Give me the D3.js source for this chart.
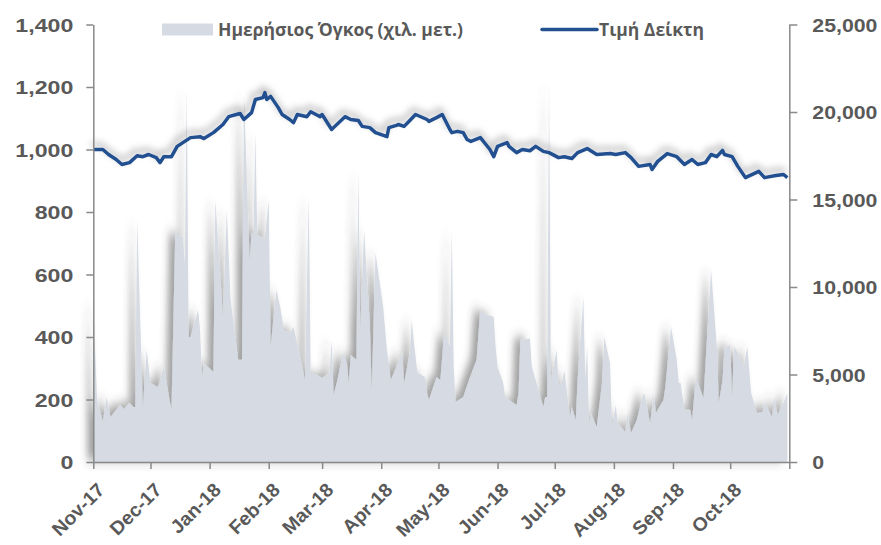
<!DOCTYPE html>
<html>
<head>
<meta charset="utf-8">
<script src="https://cdn.jsdelivr.net/npm/d3@7"></script>
<style>
  html, body { margin: 0; padding: 0; background: #fff; }
  svg { display: block; font-family: "Open Sans", "Noto Sans", sans-serif; }
</style>
</head>
<body>
<div id="chart"></div>
<script>
// Index price (left axis)
const indexDates = ["2017-11-01","2017-11-06","2017-11-09","2017-11-13","2017-11-16","2017-11-20","2017-11-24","2017-11-27","2017-11-30",
  "2017-12-04","2017-12-06","2017-12-08","2017-12-12","2017-12-15","2017-12-22","2017-12-27","2017-12-29",
  "2018-01-03","2018-01-08","2018-01-11","2018-01-15","2018-01-17","2018-01-19","2018-01-23","2018-01-25","2018-01-29","2018-01-30","2018-01-31",
  "2018-02-02","2018-02-06","2018-02-08","2018-02-12","2018-02-14","2018-02-16","2018-02-21","2018-02-23","2018-02-28",
  "2018-03-01","2018-03-06","2018-03-07","2018-03-13","2018-03-16","2018-03-20","2018-03-22","2018-03-26","2018-03-29",
  "2018-04-04","2018-04-05","2018-04-09","2018-04-10","2018-04-13","2018-04-16","2018-04-19","2018-04-25","2018-04-26","2018-04-30",
  "2018-05-03","2018-05-07","2018-05-08","2018-05-11","2018-05-14","2018-05-16","2018-05-18","2018-05-23","2018-05-28","2018-05-30",
  "2018-06-01","2018-06-06","2018-06-07","2018-06-11","2018-06-14","2018-06-18","2018-06-21","2018-06-25","2018-06-28",
  "2018-07-03","2018-07-06","2018-07-10","2018-07-13","2018-07-18","2018-07-23","2018-07-30",
  "2018-08-02","2018-08-07","2018-08-10","2018-08-14","2018-08-20","2018-08-21","2018-08-24","2018-08-29",
  "2018-09-03","2018-09-07","2018-09-11","2018-09-14","2018-09-18","2018-09-21","2018-09-24","2018-09-27","2018-09-28",
  "2018-10-02","2018-10-05","2018-10-09","2018-10-16","2018-10-19","2018-10-25","2018-10-29","2018-10-31"];
const indexValues = [1000,1000,984,968,952,958,980,977,984,
  974,958,977,977,1010,1038,1041,1035,
  1054,1080,1105,1112,1115,1096,1118,1160,1166,1182,1160,
  1170,1134,1112,1096,1086,1112,1105,1121,1105,
  1112,1064,1070,1105,1096,1093,1074,1070,1054,
  1041,1070,1077,1080,1074,1093,1112,1096,1090,1102,
  1112,1064,1054,1058,1054,1032,1026,1038,1000,977,
  1010,1022,1010,990,1000,996,1010,994,990,
  974,977,971,990,1003,984,987,
  984,990,974,946,952,936,962,987,
  977,952,968,952,958,984,977,997,984,
  977,946,910,930,910,917,920,910];

// Daily volume, thousands (right axis)
const volumeDates = ["2017-11-01","2017-11-03","2017-11-06","2017-11-08","2017-11-10","2017-11-13","2017-11-15","2017-11-17","2017-11-20","2017-11-22","2017-11-23","2017-11-24","2017-11-27","2017-11-28","2017-11-29",
  "2017-12-01","2017-12-05","2017-12-08","2017-12-11","2017-12-12","2017-12-14","2017-12-15","2017-12-18","2017-12-19","2017-12-20","2017-12-21","2017-12-22","2017-12-26","2017-12-27","2017-12-28","2017-12-29",
  "2018-01-03","2018-01-04","2018-01-08","2018-01-10","2018-01-12","2018-01-16","2018-01-18","2018-01-19","2018-01-22","2018-01-23","2018-01-24","2018-01-25","2018-01-26","2018-01-29","2018-01-30",
  "2018-02-01","2018-02-02","2018-02-05","2018-02-07","2018-02-09","2018-02-12","2018-02-14","2018-02-19","2018-02-20","2018-02-22","2018-02-23","2018-02-26",
  "2018-03-01","2018-03-05","2018-03-06","2018-03-07","2018-03-09","2018-03-12","2018-03-14","2018-03-15","2018-03-16","2018-03-19","2018-03-20","2018-03-21","2018-03-23","2018-03-26","2018-03-27","2018-03-29",
  "2018-04-02","2018-04-04","2018-04-06","2018-04-09","2018-04-12","2018-04-13","2018-04-16","2018-04-17","2018-04-18","2018-04-20","2018-04-24","2018-04-25","2018-04-26","2018-04-30",
  "2018-05-02","2018-05-04","2018-05-07","2018-05-08","2018-05-09","2018-05-10","2018-05-14","2018-05-17","2018-05-21","2018-05-23","2018-05-24","2018-05-30","2018-05-31",
  "2018-06-01","2018-06-04","2018-06-05","2018-06-07","2018-06-11","2018-06-12","2018-06-13","2018-06-18","2018-06-19","2018-06-21","2018-06-25","2018-06-26","2018-06-27","2018-06-28","2018-06-29",
  "2018-07-02","2018-07-03","2018-07-05","2018-07-06","2018-07-09","2018-07-10","2018-07-12","2018-07-13","2018-07-16","2018-07-17","2018-07-18","2018-07-19","2018-07-20","2018-07-23","2018-07-26","2018-07-27","2018-07-30","2018-07-31",
  "2018-08-02","2018-08-03","2018-08-07","2018-08-08","2018-08-10","2018-08-13","2018-08-16","2018-08-17","2018-08-20","2018-08-22","2018-08-23","2018-08-27","2018-08-28","2018-08-31",
  "2018-09-03","2018-09-04","2018-09-05","2018-09-07","2018-09-10","2018-09-11","2018-09-13","2018-09-17","2018-09-21","2018-09-24","2018-09-25","2018-09-27","2018-09-28",
  "2018-10-01","2018-10-02","2018-10-03","2018-10-05","2018-10-08","2018-10-10","2018-10-12","2018-10-15","2018-10-18","2018-10-19","2018-10-23","2018-10-24","2018-10-26","2018-10-29","2018-10-31"];
const volumeValues = [9270,3550,2350,3720,2570,2980,3260,3030,3380,3150,3150,13850,3150,4860,6410,
  4520,4290,5440,3550,2980,13160,12990,12820,11270,21400,7150,7150,8700,7550,4860,5660,
  5150,14990,8300,14420,9270,5840,5840,21000,11560,13100,13000,18820,12990,12820,12820,
  14990,6580,9840,8870,7550,7380,7720,5260,4690,15160,5090,4980,
  4810,5090,6980,3830,4690,6240,5660,4520,6120,5840,16700,7550,13270,7950,4120,11960,
  8870,6410,4690,5440,6240,4520,6240,8120,6980,5090,4860,3950,3550,4860,
  4690,7380,6580,13270,5440,3430,3720,4690,5840,8810,8520,8300,6580,
  5440,4520,3720,3550,3260,3950,6980,7040,5440,4690,3150,3720,3720,21850,4690,
  6410,4290,4690,5260,2570,3150,2400,4690,9440,4690,6580,2230,2800,2000,4690,7150,5660,2000,
  3260,2230,1720,2800,1660,2400,3720,3950,2230,3950,2800,3550,4290,7720,
  5840,4520,4520,2980,2980,2400,4860,3660,10980,6580,3380,4690,6520,
  6690,3720,6580,6240,5440,6580,3950,2800,2860,3380,2570,3720,2690,3380,3950];

const leftTicks = [0, 200, 400, 600, 800, 1000, 1200, 1400];
const rightTicks = [0, 5000, 10000, 15000, 20000, 25000];
const monthTicks = ["2017-11-01","2017-12-01","2018-01-01","2018-02-01","2018-03-01","2018-04-01",
  "2018-05-01","2018-06-01","2018-07-01","2018-08-01","2018-09-01","2018-10-01","2018-11-01"];

const legendLabels = ["Ημερήσιος Όγκος (χιλ. μετ.)", "Τιμή Δείκτη"];

const width = 881, height = 545;
const x0 = 93.3, x1 = 789.3, yBottom = 462, yTop = 24.5;
const textColor = "#595959", axisColor = "#898989";
const areaColor = "#d6dbe3", lineColor = "#23508f";

const parse = d3.utcParse("%Y-%m-%d");

const x = d3.scaleUtc()
    .domain([parse("2017-11-01"), parse("2018-11-01")])
    .range([x0, x1]);
const yLeft = d3.scaleLinear().domain([0, 1400]).range([yBottom, yTop]);
const yRight = d3.scaleLinear().domain([0, 25000]).range([yBottom, yTop]);

const svg = d3.select("#chart").append("svg")
    .attr("width", width)
    .attr("height", height);

const defs = svg.append("defs");

// Shadow behind the volume area (offset left, blurred)
const areaShadow = defs.append("filter").attr("id", "areaShadow")
    .attr("x", "-10%").attr("y", "-20%").attr("width", "120%").attr("height", "140%");
areaShadow.append("feGaussianBlur").attr("in", "SourceAlpha").attr("stdDeviation", "3.5 6").attr("result", "blur");
areaShadow.append("feOffset").attr("in", "blur").attr("dx", -6).attr("dy", -2).attr("result", "off");
areaShadow.append("feFlood").attr("flood-color", "#444").attr("flood-opacity", 0.5);
areaShadow.append("feComposite").attr("in2", "off").attr("operator", "in").attr("result", "shadow");
const am = areaShadow.append("feMerge");
am.append("feMergeNode").attr("in", "shadow");
am.append("feMergeNode").attr("in", "SourceGraphic");

// Soft glow under the index line
const lineShadow = defs.append("filter").attr("id", "lineShadow")
    .attr("x", "-10%").attr("y", "-50%").attr("width", "120%").attr("height", "200%");
lineShadow.append("feGaussianBlur").attr("in", "SourceAlpha").attr("stdDeviation", 3.5).attr("result", "blur");
lineShadow.append("feOffset").attr("in", "blur").attr("dx", -2).attr("dy", -5).attr("result", "off");
lineShadow.append("feFlood").attr("flood-color", "#000").attr("flood-opacity", 0.32);
lineShadow.append("feComposite").attr("in2", "off").attr("operator", "in").attr("result", "shadow");
const lm = lineShadow.append("feMerge");
lm.append("feMergeNode").attr("in", "shadow");
lm.append("feMergeNode").attr("in", "SourceGraphic");

// stretch text horizontally a bit (the source font is wider than what we have)
function stretch(sel, k) {
    sel.each(function () {
        const len = this.getComputedTextLength();
        d3.select(this).attr("textLength", len * k).attr("lengthAdjust", "spacingAndGlyphs");
    });
}

// -- Volume area --
const volume = volumeDates.map((d, i) => ({ date: parse(d), value: volumeValues[i] }));
const area = d3.area()
    .x(d => x(d.date))
    .y0(yRight(0))
    .y1(d => yRight(d.value));

svg.append("path")
    .datum(volume)
    .attr("d", area)
    .attr("fill", areaColor)
    .attr("filter", "url(#areaShadow)");

// -- Index line --
const index = indexDates.map((d, i) => ({ date: parse(d), value: indexValues[i] }));
const line = d3.line()
    .x(d => x(d.date))
    .y(d => yLeft(d.value));

svg.append("path")
    .datum(index)
    .attr("d", line)
    .attr("fill", "none")
    .attr("stroke", lineColor)
    .attr("stroke-width", 3.5)
    .attr("stroke-linejoin", "round")
    .attr("filter", "url(#lineShadow)");

// -- Axes --
function styleAxis(g) {
    g.select(".domain").attr("stroke", axisColor).attr("stroke-width", 1.5);
    g.selectAll(".tick line").attr("stroke", axisColor).attr("stroke-width", 1.5);
    g.selectAll(".tick text")
        .attr("fill", textColor)
        .style("font-size", "19px")
        .style("font-weight", 700);
}

const leftAxis = svg.append("g")
    .attr("transform", `translate(${x0},0)`)
    .call(d3.axisLeft(yLeft).tickValues(leftTicks).tickFormat(d3.format(",")).tickSize(7).tickSizeOuter(0).tickPadding(13))
    .call(styleAxis);
leftAxis.selectAll(".tick text").attr("dy", "0.36em");
stretch(leftAxis.selectAll(".tick text"), 1.22);

const rightAxis = svg.append("g")
    .attr("transform", `translate(${x1},0)`)
    .call(d3.axisRight(yRight).tickValues(rightTicks).tickFormat(d3.format(",")).tickSize(8).tickSizeOuter(0).tickPadding(15))
    .call(styleAxis);
rightAxis.selectAll(".tick text").attr("dy", "0.36em");
stretch(rightAxis.selectAll(".tick text"), 1.12);

const bottomAxis = svg.append("g")
    .attr("transform", `translate(0,${yBottom})`)
    .call(d3.axisBottom(x).tickValues(monthTicks.map(parse)).tickFormat(d3.utcFormat("%b-%y")).tickSize(7).tickSizeOuter(0))
    .call(styleAxis);
bottomAxis.selectAll(".tick text")
    .attr("text-anchor", "end")
    .attr("x", 0).attr("y", 0).attr("dy", 0)
    .attr("transform", "translate(12,29) rotate(-45)");
bottomAxis.selectAll(".tick").filter((d, i) => i === monthTicks.length - 1).select("text").remove();
stretch(bottomAxis.selectAll(".tick text"), 1.03);

// -- Legend --
const legend = svg.append("g");
legend.append("rect")
    .attr("x", 162).attr("y", 23.5).attr("width", 51).attr("height", 12)
    .attr("fill", areaColor);
legend.append("text")
    .attr("x", 218).attr("y", 36)
    .attr("fill", textColor)
    .style("font-size", "18px").style("font-weight", 700)
    .attr("textLength", 245).attr("lengthAdjust", "spacingAndGlyphs")
    .text(legendLabels[0]);
legend.append("line")
    .attr("x1", 542).attr("x2", 597).attr("y1", 29.5).attr("y2", 29.5)
    .attr("stroke", lineColor).attr("stroke-width", 3.5).attr("stroke-linecap", "round");
legend.append("text")
    .attr("x", 599).attr("y", 36)
    .attr("fill", textColor)
    .style("font-size", "18px").style("font-weight", 700)
    .attr("textLength", 105).attr("lengthAdjust", "spacingAndGlyphs")
    .text(legendLabels[1]);
</script>
</body>
</html>
